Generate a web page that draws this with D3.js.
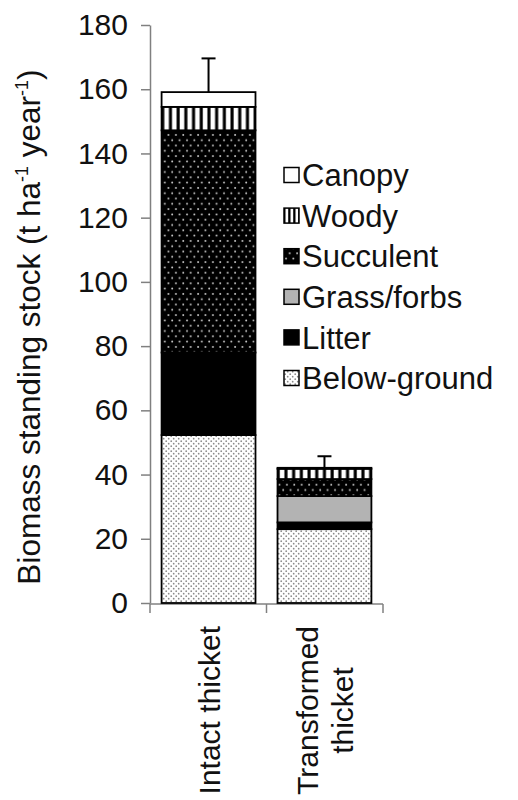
<!DOCTYPE html>
<html><head><meta charset="utf-8">
<script src="https://cdn.jsdelivr.net/npm/d3@7"></script>
<style>body{margin:0;background:#fff}</style>
</head><body><svg id="c" width="518" height="800"></svg>
<script>
// ---- data ----
const categories = ["Intact thicket", "Transformed thicket"];
const categoryLines = [["Intact thicket"], ["Transformed", "thicket"]];
const seriesNames = ["Below-ground", "Litter", "Grass/forbs", "Succulent", "Woody", "Canopy"];
const belowGround = [52.3, 23.0];
const litter = [25.7, 2.1];
const grassForbs = [0, 8.2];
const succulent = [69.2, 5.3];
const woody = [7.3, 3.2];
const canopy = [4.6, 0.3];
const errorPlus = [10.5, 3.6];
const yTicks = [0, 20, 40, 60, 80, 100, 120, 140, 160, 180];

const seriesValues = [belowGround, litter, grassForbs, succulent, woody, canopy];
const table = categories.map((c, i) => {
  const row = {category: c};
  seriesNames.forEach((s, j) => row[s] = seriesValues[j][i]);
  return row;
});

const FONT = "'Liberation Sans', Arial, sans-serif";
const svg = d3.select("#c");
const defs = svg.append("defs");

// patterns
const pB = defs.append("pattern").attr("id", "pBelow").attr("patternUnits", "userSpaceOnUse")
  .attr("width", 5).attr("height", 5);
pB.append("rect").attr("width", 5).attr("height", 5).attr("fill", "#fff");
pB.append("circle").attr("cx", 1.2).attr("cy", 1.2).attr("r", 0.85).attr("fill", "#8a8a8a");
pB.append("circle").attr("cx", 3.7).attr("cy", 3.7).attr("r", 0.85).attr("fill", "#8a8a8a");

const pS = defs.append("pattern").attr("id", "pSucc").attr("patternUnits", "userSpaceOnUse")
  .attr("width", 7.4).attr("height", 10.6);
pS.append("rect").attr("width", 7.4).attr("height", 10.6).attr("fill", "#000");
pS.append("circle").attr("cx", 2).attr("cy", 2.5).attr("r", 0.95).attr("fill", "#d0d0d0");
pS.append("circle").attr("cx", 5.7).attr("cy", 7.8).attr("r", 0.95).attr("fill", "#d0d0d0");

const pW = defs.append("pattern").attr("id", "pWoody").attr("patternUnits", "userSpaceOnUse")
  .attr("width", 7.7).attr("height", 10);
pW.append("rect").attr("width", 7.7).attr("height", 10).attr("fill", "#000");
pW.append("rect").attr("x", 2.6).attr("width", 4.6).attr("height", 10).attr("fill", "#fff");

const pWL = defs.append("pattern").attr("id", "pWoodyL").attr("patternUnits", "objectBoundingBox")
  .attr("width", 1 / 3).attr("height", 1);
pWL.append("rect").attr("width", 5).attr("height", 15).attr("fill", "#000");
pWL.append("rect").attr("x", 1.5).attr("width", 2.7).attr("height", 15).attr("fill", "#fff");

const fills = {
  "Below-ground": "url(#pBelow)", "Litter": "#000", "Grass/forbs": "#b3b3b3",
  "Succulent": "url(#pSucc)", "Woody": "url(#pWoody)", "Canopy": "#fff"
};
const legendFills = Object.assign({}, fills, {"Woody": "url(#pWoodyL)"});

// scales
const y = d3.scaleLinear().domain([0, 180]).range([603, 25]);
const x = d3.scaleBand().domain(categories).range([150, 383]).paddingInner(0.19).paddingOuter(0.1);

// axes
const yAxis = svg.append("g").attr("transform", "translate(150,0)")
  .call(d3.axisLeft(y).tickValues(yTicks).tickSize(9).tickSizeOuter(0).tickPadding(13));
yAxis.select(".domain").attr("stroke", "#808080").attr("stroke-width", 1.5);
yAxis.selectAll(".tick line").attr("stroke", "#808080").attr("stroke-width", 1.5);
yAxis.selectAll(".tick text").attr("font-family", FONT).attr("font-size", 30).attr("fill", "#111");

const xAxisG = svg.append("g");
xAxisG.append("line").attr("x1", 150).attr("x2", 383).attr("y1", y(0) + 1).attr("y2", y(0) + 1)
  .attr("stroke", "#808080").attr("stroke-width", 1.5);
const bounds = [x.range()[0], (x(categories[0]) + x.bandwidth() + x(categories[1])) / 2, x.range()[1]];
xAxisG.selectAll("line.t").data(bounds).join("line").attr("class", "t")
  .attr("x1", d => d).attr("x2", d => d).attr("y1", y(0) + 1).attr("y2", y(0) + 10)
  .attr("stroke", "#808080").attr("stroke-width", 1.5);

// stacked bars
const stack = d3.stack().keys(seriesNames)(table);
const layers = svg.append("g").selectAll("g").data(stack).join("g")
  .attr("fill", d => fills[d.key]);
layers.selectAll("rect").data(d => d.filter(p => p[1] - p[0] > 0)).join("rect")
  .attr("x", d => x(d.data.category))
  .attr("width", x.bandwidth())
  .attr("y", d => y(d[1]))
  .attr("height", d => y(d[0]) - y(d[1]))
  .attr("stroke", "#000").attr("stroke-width", 1.8);

// error bars
const totals = table.map(r => d3.sum(seriesNames, s => r[s]));
const eb = svg.append("g").attr("stroke", "#000").attr("stroke-width", 2);
categories.forEach((c, i) => {
  const cx = x(c) + x.bandwidth() / 2;
  eb.append("line").attr("x1", cx).attr("x2", cx).attr("y1", y(totals[i])).attr("y2", y(totals[i] + errorPlus[i]));
  eb.append("line").attr("x1", cx - 7).attr("x2", cx + 7).attr("y1", y(totals[i] + errorPlus[i])).attr("y2", y(totals[i] + errorPlus[i]));
});

// category labels (rotated)
categories.forEach((c, i) => {
  const lines = categoryLines[i];
  const g = svg.append("g");
  const n = lines.length;
  const cx = x(c) + x.bandwidth() / 2;
  const lh = 35;
  const texts = lines.map((ln, k) => {
    const bx = cx + 11 + (k - (n - 1) / 2) * lh;
    return g.append("text").text(ln).attr("font-family", FONT).attr("font-size", 30).attr("fill", "#111")
      .attr("data-bx", bx);
  });
  const maxW = d3.max(texts, t => t.node().getComputedTextLength());
  const top = 626;
  texts.forEach(t => {
    const bx = +t.attr("data-bx");
    t.attr("text-anchor", "middle")
      .attr("transform", `translate(${bx},${top + maxW / 2}) rotate(-90)`);
  });
});

// y axis title
const title = svg.append("text").attr("font-family", FONT).attr("font-size", 31.5).attr("fill", "#111")
  .attr("text-anchor", "middle").attr("transform", "translate(40,327) rotate(-90)");
title.append("tspan").text("Biomass standing stock (t ha");
title.append("tspan").text("-1").attr("font-size", 18).attr("dy", -12);
title.append("tspan").text(" year").attr("dy", 12);
title.append("tspan").text("-1").attr("font-size", 18).attr("dy", -12);
title.append("tspan").text(")").attr("dy", 12);

// legend
const legendOrder = seriesNames.slice().reverse();
const lg = svg.append("g");
const ly = d3.scalePoint().domain(legendOrder).range([175, 378]);
const items = lg.selectAll("g").data(legendOrder).join("g")
  .attr("transform", d => `translate(284,${ly(d)})`);
items.append("rect").attr("x", 0).attr("y", -7.5).attr("width", 15).attr("height", 15)
  .attr("fill", d => legendFills[d]).attr("stroke", "#000").attr("stroke-width", 1.5);
items.append("text").attr("x", 18).attr("dy", "0.36em").text(d => d)
  .attr("font-family", FONT).attr("font-size", 31).attr("fill", "#111");
</script>
</body></html>
